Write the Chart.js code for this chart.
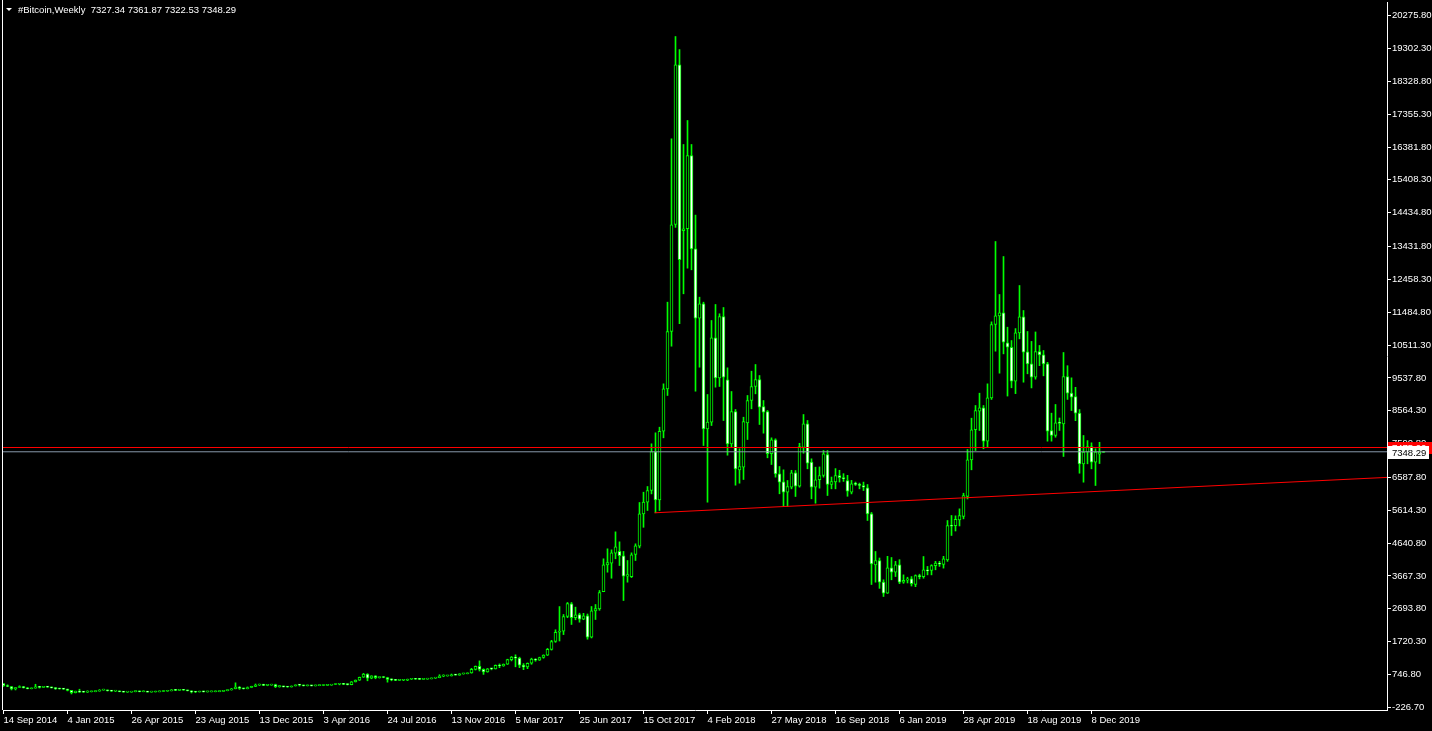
<!DOCTYPE html>
<html>
<head>
<meta charset="utf-8">
<title>#Bitcoin, Weekly</title>
<script src="https://cdn.jsdelivr.net/npm/chart.js@4.4.1/dist/chart.umd.min.js"></script>
<style>
  html, body { margin: 0; padding: 0; background: #000; overflow: hidden; }
</style>
</head>
<body>
<canvas id="chartWeekly" width="1432" height="731"></canvas>
<script>
// weekly bars, 14 Sep 2014 .. 29 Dec 2019 (one week missing in summer 2015)
const opens = [
  477, 412, 390, 320, 362, 389, 354, 325, 343, 384,
  366, 376, 374, 349, 330, 316, 315, 274, 210, 253,
  226, 223, 235, 238, 255, 285, 287, 266, 253, 255,
  236, 222, 226, 241, 242, 236, 240, 225, 228, 233,
  244, 249, 260, 285, 276, 289, 270, 264, 230, 229,
  240, 230, 232, 235, 238, 246, 269, 286, 325, 375,
  331, 325, 361, 393, 434, 440, 423, 430, 448, 387,
  400, 378, 375, 406, 438, 432, 412, 414, 408, 418,
  420, 423, 430, 450, 458, 460, 454, 445, 528, 580,
  665, 760, 640, 705, 655, 665, 658, 600, 588, 572,
  575, 577, 605, 608, 607, 603, 612, 617, 640, 653,
  700, 705, 708, 740, 730, 765, 770, 790, 900, 990,
  900, 820, 918, 915, 1015, 1000, 1050, 1190, 1265, 1230,
  1020, 970, 1080, 1205, 1175, 1250, 1320, 1490, 1725, 2000,
  2030, 2466, 2842, 2432, 2525, 2386, 2486, 1852, 2630, 2694,
  3200, 3998, 4046, 4343, 4400, 4265, 3661, 3647, 4304, 4550,
  5510, 5854, 6201, 7357, 5925, 7958, 9215, 10914, 14086, 18819,
  13900, 13958, 16131, 13365, 11308, 11734, 8029, 8226, 10727, 9541,
  11358, 9482, 7585, 8542, 6814, 6892, 8207, 8868, 9284, 9491,
  8690, 8542, 7289, 7703, 6695, 6457, 6150, 6300, 6725, 6328,
  7475, 8177, 7040, 6300, 6518, 6645, 7267, 6378, 6457, 6645,
  6580, 6497, 6150, 6400, 6380, 6350, 6281, 5510, 3998, 4126,
  3483, 3157, 3909, 3780, 3998, 3483, 3540, 3580, 3414, 3681,
  3650, 3850, 3830, 3976, 4050, 4007, 4146, 5160, 5160, 5330,
  5430, 6022, 7110, 8001, 8553, 8651, 7663, 8948, 11121, 11378,
  11467, 10577, 10448, 9440, 10873, 11349, 10310, 9956, 9560, 10320,
  10221, 9956, 7979, 7831, 8230, 8176, 9580, 9085, 8987, 8493,
  6992, 7336, 7505, 7040, 7280, 7327.34
];
const highs = [
  478, 442, 392, 365, 412, 392, 365, 346, 458, 398,
  386, 382, 378, 352, 337, 325, 316, 275, 255, 310,
  242, 266, 248, 258, 300, 298, 290, 275, 260, 261,
  238, 237, 241, 244, 245, 242, 241, 232, 236, 253,
  250, 265, 300, 295, 292, 299, 272, 267, 234, 242,
  245, 234, 239, 240, 248, 270, 288, 335, 500, 390,
  340, 378, 400, 465, 465, 460, 438, 460, 460, 420,
  405, 390, 410, 440, 445, 437, 425, 418, 420, 422,
  425, 431, 453, 468, 465, 462, 456, 540, 585, 670,
  780, 770, 710, 712, 675, 680, 665, 620, 598, 590,
  585, 612, 628, 612, 612, 618, 620, 645, 660, 740,
  740, 720, 760, 745, 770, 775, 795, 930, 1000, 1150,
  915, 925, 935, 1030, 1060, 1060, 1200, 1280, 1330, 1260,
  1070, 1090, 1230, 1215, 1260, 1330, 1520, 1760, 2072, 2760,
  2525, 2881, 2881, 2743, 2564, 2560, 2540, 2762, 2821, 3237,
  4176, 4472, 4442, 4975, 4679, 4394, 4126, 4353, 4620, 5845,
  6150, 6319, 7585, 7911, 8077, 9362, 11783, 16625, 19657, 19272,
  16457, 17168, 16457, 14364, 11931, 11783, 9046, 11240, 11714, 11439,
  11625, 9837, 9135, 8602, 7437, 8373, 9017, 9737, 9935, 9609,
  8868, 8572, 7762, 7733, 6912, 6813, 6497, 6800, 6793, 7600,
  8453, 8276, 7140, 6892, 6900, 7386, 7386, 6600, 6850, 6800,
  6700, 6650, 6500, 6450, 6420, 6450, 6378, 5549, 4393, 4200,
  3554, 4250, 4215, 4100, 4150, 3700, 3630, 3650, 3700, 3720,
  4244, 3950, 4000, 4100, 4100, 4250, 5311, 5460, 5450, 5657,
  6120, 7416, 8344, 8720, 9085, 8720, 9362, 11200, 13581, 12010,
  13136, 11041, 10646, 11000, 12277, 11536, 10914, 10620, 10900, 10500,
  10350, 10000, 8493, 8750, 8350, 10291, 9900, 9540, 9260, 8600,
  7831, 7680, 7614, 7437, 7630, 7361.87
];
const lows = [
  390, 385, 289, 289, 358, 345, 320, 320, 341, 345,
  360, 362, 345, 305, 314, 300, 260, 170, 200, 215,
  212, 215, 228, 234, 253, 282, 255, 240, 242, 234,
  218, 218, 221, 232, 232, 233, 222, 222, 226, 232,
  241, 249, 260, 268, 270, 278, 258, 200, 210, 226,
  228, 225, 230, 232, 235, 245, 262, 283, 320, 305,
  315, 320, 355, 389, 420, 415, 413, 428, 360, 370,
  375, 366, 372, 403, 405, 405, 406, 405, 405, 413,
  414, 420, 426, 445, 440, 448, 436, 440, 525, 570,
  660, 560, 620, 620, 640, 650, 520, 560, 565, 565,
  565, 565, 600, 598, 593, 600, 605, 615, 630, 650,
  680, 695, 700, 725, 725, 755, 765, 785, 880, 850,
  750, 815, 885, 910, 950, 990, 1045, 1150, 975, 950,
  890, 920, 1050, 1140, 1165, 1230, 1310, 1470, 1700, 1740,
  1930, 2430, 2229, 2368, 2297, 2370, 1793, 1830, 2377, 2650,
  3200, 3779, 3600, 4176, 3977, 2940, 3483, 3620, 4126, 4500,
  5110, 5608, 6100, 5540, 5608, 7762, 9017, 10478, 14000, 11142,
  12031, 12791, 12742, 9144, 9856, 7534, 5854, 8127, 9263, 9284,
  8275, 7247, 7500, 6358, 6417, 6527, 7712, 8622, 9066, 8157,
  7900, 7170, 6971, 6596, 6103, 5726, 5726, 6250, 6023, 6300,
  7306, 6843, 5955, 5824, 6270, 6596, 6052, 6250, 6250, 6450,
  6470, 6030, 6100, 6350, 6250, 6200, 5312, 3414, 3483, 3300,
  3059, 3150, 3554, 3650, 3440, 3450, 3460, 3370, 3350, 3580,
  3600, 3700, 3700, 3850, 3950, 3900, 4100, 4867, 5000, 5150,
  5360, 5950, 6814, 7386, 7979, 7437, 7485, 8900, 10330, 9678,
  10251, 9000, 9245, 9072, 10696, 9411, 9660, 9241, 9500, 9900,
  9600, 7663, 7663, 7780, 7980, 7209, 8900, 8570, 8270, 6713,
  6447, 6992, 6843, 6349, 7000, 7322.53
];
const closes = [
  412, 390, 320, 362, 389, 354, 325, 343, 384, 366,
  376, 374, 349, 330, 316, 315, 274, 210, 253, 226,
  223, 235, 238, 255, 285, 287, 266, 253, 255, 236,
  222, 226, 241, 242, 236, 240, 225, 228, 233, 244,
  249, 260, 285, 276, 289, 280, 264, 230, 229, 240,
  230, 232, 235, 238, 246, 269, 286, 325, 375, 331,
  325, 361, 393, 434, 440, 423, 430, 448, 387, 400,
  378, 375, 406, 438, 432, 412, 414, 408, 418, 420,
  423, 430, 450, 458, 460, 454, 445, 528, 580, 665,
  760, 640, 705, 655, 665, 658, 600, 588, 572, 575,
  577, 605, 608, 607, 603, 612, 617, 640, 653, 700,
  705, 708, 740, 730, 765, 770, 790, 900, 990, 900,
  820, 918, 915, 1015, 1000, 1050, 1190, 1265, 1230, 1020,
  970, 1080, 1205, 1175, 1250, 1320, 1490, 1725, 2000, 2030,
  2466, 2851, 2432, 2516, 2386, 2486, 1852, 2635, 2700, 3177,
  3998, 4067, 4353, 4531, 4270, 3661, 3711, 4294, 4561, 5510,
  5854, 6201, 7357, 5925, 7958, 9215, 10914, 14076, 18819, 13040,
  13960, 16131, 13365, 11308, 11734, 8029, 8226, 10727, 9541, 11358,
  9560, 7585, 8542, 6844, 6912, 8246, 8868, 9284, 9491, 8667,
  8522, 7289, 7703, 6695, 6447, 6150, 6320, 6725, 6328, 7505,
  8177, 7011, 6300, 6518, 6645, 7288, 6378, 6466, 6645, 6580,
  6550, 6180, 6400, 6380, 6350, 6300, 5510, 4028, 4126, 3483,
  3157, 3909, 3780, 3998, 3483, 3540, 3580, 3440, 3681, 3650,
  3850, 3820, 3976, 4050, 4020, 4176, 5163, 5140, 5349, 5460,
  6052, 7110, 8001, 8572, 8651, 7663, 8948, 11121, 11378, 11467,
  10597, 10448, 9440, 10873, 11349, 10300, 9956, 9560, 10320, 10221,
  9956, 7959, 7831, 8206, 8190, 9580, 9085, 8967, 8493, 6992,
  7336, 7505, 7040, 7336, 7336, 7348.29
];

// date labels shown every 16 bars
const tickLabels = ['14 Sep 2014', '4 Jan 2015', '26 Apr 2015', '23 Aug 2015', '13 Dec 2015',
  '3 Apr 2016', '24 Jul 2016', '13 Nov 2016', '5 Mar 2017', '25 Jun 2017', '15 Oct 2017',
  '4 Feb 2018', '27 May 2018', '16 Sep 2018', '6 Jan 2019', '28 Apr 2019', '18 Aug 2019', '8 Dec 2019'];
const priceTicks = [20275.80, 19302.30, 18328.80, 17355.30, 16381.80, 15408.30, 14434.80, 13431.80,
  12458.30, 11484.80, 10511.30, 9537.80, 8564.30, 7590.80, 6587.80, 5614.30, 4640.80, 3667.30,
  2693.80, 1720.30, 746.80, -226.70];

// trend line (bar index, price) and the bid / ask lines
const trendX = [162.75, 346];
const trendY = [5540, 6590];
const bidPrice = 7348.29;
const askPrice = 7475.00;
const headerText = '#Bitcoin,Weekly  7327.34 7361.87 7322.53 7348.29';

const fontFamily = '"Liberation Sans", Arial, sans-serif';
const fontSize = 9.5;
const green = '#00ff00';

var bodies = [];
var wicks = [];
var bodyColors = [];
for (var i = 0; i < opens.length; i++) {
    bodies.push({ x: i, y: [Math.min(opens[i], closes[i]), Math.max(opens[i], closes[i])] });
    wicks.push({ x: i, y: [lows[i], highs[i]] });
    bodyColors.push(closes[i] >= opens[i] ? '#000000' : '#ffffff');
}

const mtDecor = {
    id: 'mtDecor',
    afterDraw: function (chart) {
        const ctx = chart.ctx;
        const area = chart.chartArea;
        const yScale = chart.scales.y;
        ctx.save();
        // left frame line
        ctx.strokeStyle = '#ffffff';
        ctx.lineWidth = 1;
        ctx.beginPath();
        ctx.moveTo(area.left - 0.5, 0);
        ctx.lineTo(area.left - 0.5, area.bottom);
        ctx.stroke();

        // header
        ctx.fillStyle = '#ffffff';
        ctx.beginPath();
        ctx.moveTo(6, 8);
        ctx.lineTo(12, 8);
        ctx.lineTo(9, 11);
        ctx.closePath();
        ctx.fill();
        ctx.font = fontSize + 'px ' + fontFamily;
        ctx.textAlign = 'left';
        ctx.textBaseline = 'middle';
        ctx.fillText(headerText, 18, 10);

        // ask / bid boxes on the price axis
        const ya = Math.round(yScale.getPixelForValue(askPrice));
        ctx.fillStyle = '#ff0000';
        ctx.fillRect(area.right + 1, ya - 6, 44, 12);
        ctx.fillStyle = '#ffffff';
        ctx.fillText(askPrice.toFixed(2), area.right + 5, ya);

        const yb = Math.round(yScale.getPixelForValue(bidPrice));
        ctx.fillStyle = '#ffffff';
        ctx.fillRect(area.right + 1, yb - 6, 41, 13);
        ctx.fillStyle = '#000000';
        ctx.fillText(bidPrice.toFixed(2), area.right + 5, yb + 1);
        ctx.restore();
    }
};

const ctx = document.getElementById('chartWeekly').getContext('2d');
const myChart = new Chart(ctx, {
    type: 'bar',
    data: {
        datasets: [
            {
                type: 'line',
                label: 'ask',
                data: [{ x: -1, y: askPrice }, { x: 400, y: askPrice }],
                borderColor: '#ff0000',
                borderWidth: 1,
                pointRadius: 0,
                order: 0
            },
            {
                type: 'line',
                label: 'bid',
                data: [{ x: -1, y: bidPrice }, { x: 400, y: bidPrice }],
                borderColor: '#8899aa',
                borderWidth: 1,
                pointRadius: 0,
                order: 0
            },
            {
                type: 'line',
                label: 'trend',
                data: [{ x: trendX[0], y: trendY[0] }, { x: trendX[1], y: trendY[1] }],
                borderColor: '#ff0000',
                borderWidth: 1,
                pointRadius: 0,
                order: 0
            },
            {
                label: 'bodies',
                data: bodies,
                backgroundColor: bodyColors,
                borderColor: green,
                borderWidth: 1,
                borderSkipped: false,
                barThickness: 3,
                minBarLength: 1,
                grouped: false,
                order: 1
            },
            {
                label: 'wicks',
                data: wicks,
                backgroundColor: green,
                borderWidth: 0,
                barThickness: 1,
                minBarLength: 1,
                grouped: false,
                order: 2
            }
        ]
    },
    options: {
        responsive: false,
        devicePixelRatio: 1,
        animation: false,
        layout: { padding: { left: 3, top: 2, right: 0, bottom: 0 } },
        plugins: {
            legend: { display: false },
            tooltip: { enabled: false },
            title: { display: false }
        },
        scales: {
            x: {
                type: 'linear',
                min: -0.125,
                max: 345.875,
                offset: false,
                grid: { display: true, offset: false, drawOnChartArea: false, drawTicks: true, tickLength: 4, color: '#ffffff' },
                border: { display: true, color: '#ffffff' },
                ticks: {
                    autoSkip: false,
                    maxRotation: 0,
                    align: 'start',
                    padding: 1,
                    color: '#ffffff',
                    font: { family: fontFamily, size: fontSize },
                    callback: function (value) { return tickLabels[Math.round(value / 16)]; }
                },
                afterBuildTicks: function (scale) {
                    scale.ticks = tickLabels.map(function (t, k) { return { value: 16 * k }; });
                },
                afterFit: function (scale) {
                    scale.height = 21;
                    scale.paddingLeft = 0;
                    scale.paddingRight = 0;
                }
            },
            y: {
                type: 'linear',
                position: 'right',
                min: -305.5,
                max: 20680.3,
                grid: { display: true, drawOnChartArea: false, drawTicks: true, tickLength: 4, color: '#ffffff' },
                border: { display: true, color: '#ffffff' },
                ticks: {
                    autoSkip: false,
                    padding: 1,
                    color: '#ffffff',
                    font: { family: fontFamily, size: fontSize },
                    callback: function (value) { return value.toFixed(2); }
                },
                afterBuildTicks: function (scale) {
                    scale.ticks = priceTicks.map(function (v) { return { value: v }; });
                },
                afterFit: function (scale) {
                    scale.width = 45;
                    scale.paddingTop = 0;
                    scale.paddingBottom = 0;
                }
            }
        }
    },
    plugins: [mtDecor]
});
</script>
</body>
</html>
